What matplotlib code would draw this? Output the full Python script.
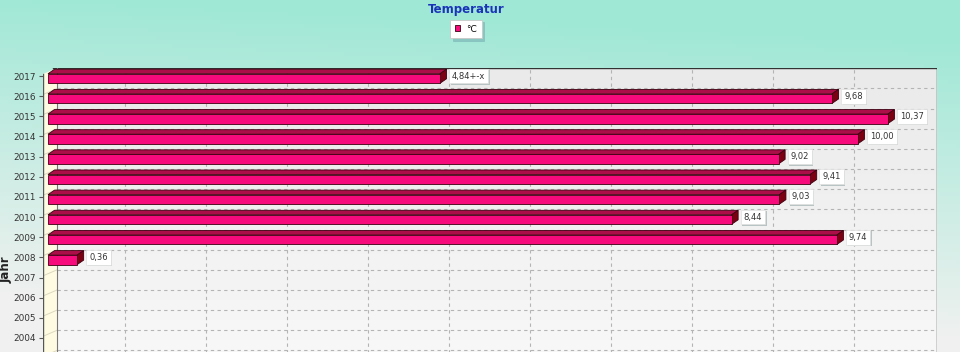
import numpy as np
import matplotlib
matplotlib.use("Agg")
import matplotlib.pyplot as plt
from matplotlib.patches import Polygon
from matplotlib.transforms import offset_copy

# ── data ──────────────────────────────────────────────────────────────────────
years  = [2017, 2016, 2015, 2014, 2013, 2012, 2011, 2010, 2009, 2008, 2007, 2006, 2005, 2004]
values = [4.84, 9.68, 10.37, 10.00, 9.02, 9.41, 9.03, 8.44, 9.74, 0.36, None, None, None, None]
labels = ["4,84+-x", "9,68", "10,37", "10,00", "9,02", "9,41", "9,03", "8,44", "9,74", "0,36",
          "", "", "", ""]
series_name = "°C"
title       = "Temperatur"
ylabel      = "Jahr"

# ── layout (pixels) ───────────────────────────────────────────────────────────
W, H      = 960, 352
PX_UNIT   = 81.0      # px per °C
PX_CAT    = 20.15     # px per year
X0_PX     = 48        # value 0 on the front plane
Y17_PX    = 76        # label row of 2017
AX_L, AX_R, AX_T, AX_B = 43, 937, 68, 400
WALL_PX   = 57

def vx(px):  return (px - X0_PX) / PX_UNIT
def vy(py):  return years[0] - (py - Y17_PX) / PX_CAT

DX = 6.5 / PX_UNIT    # 3D depth
DY = 4.5 / PX_CAT

FRONT   = "#f70a7c"
TOPC    = "#ac0f48"
SIDE    = "#7c0012"
EDGE    = "#3c0010"

fig = plt.figure(figsize=(W / 100, H / 100), dpi=100)

# background gradient (mint on top, pale grey at the bottom)
bg = fig.add_axes([0, 0, 1, 1], zorder=-10)
gx, gy = np.meshgrid(np.linspace(0, 1, 240), np.linspace(0, 1, 88))
t = np.clip((gy - 0.12) / 0.85 + (1 - gx) * 0.15, 0, 1)[..., None]
mint  = np.array([0.63, 0.91, 0.84])
light = np.array([0.94, 0.945, 0.94])
bg.imshow(mint * (1 - t) + light * t, aspect="auto", extent=[0, 1, 0, 1], origin="upper")
bg.axis("off")

ax = fig.add_axes([AX_L / W, 1 - AX_B / H, (AX_R - AX_L) / W, (AX_B - AX_T) / H])
ax.patch.set_visible(False)
for s in ax.spines.values():
    s.set_visible(False)

ybot, ytop = vy(AX_B), vy(AX_T)
xwall = vx(WALL_PX)

# back wall
wall = np.linspace(0.915, 0.975, 50)[:, None]
ax.imshow(np.repeat(wall, 2, axis=1), cmap="gray", vmin=0, vmax=1, aspect="auto",
          extent=[xwall, vx(AX_R), ybot, ytop], origin="upper", zorder=0)

# left wall
ax.add_patch(Polygon([(vx(AX_L), ybot), (vx(AX_L), vy(AX_T + 6)), (xwall, ytop), (xwall, ybot)],
                     closed=True, facecolor="#fffbe2", edgecolor="none", zorder=0.5))

# grid
grid_y = [y + 0.38 for y in years[1:]] + [years[-1] - 0.62]
ax.hlines(grid_y, xwall, vx(AX_R), colors="#b4b4b4", linestyles=(0, (3, 3)), lw=0.8, zorder=1)
for g in grid_y:
    ax.plot([vx(AX_L), xwall], [g - 6 / PX_CAT, g], color="#dcd8c0", lw=0.7, zorder=1)
ax.vlines(np.arange(1, 11) - 0.05, ybot, ytop, colors="#b4b4b4",
          linestyles=(0, (3, 3)), lw=0.8, zorder=1)

# frame
ax.plot([xwall - 0.05, vx(AX_R), vx(AX_R)], [ytop, ytop, ybot], color="#333333", lw=1.0, zorder=2)
ax.plot([xwall, xwall], [ytop, ybot], color="#777777", lw=0.8, zorder=2)
ax.plot([vx(AX_L), vx(AX_L)], [vy(AX_T + 6), ybot], color="#555555", lw=1.0, zorder=2)

# bars
bar_h = 9.5 / PX_CAT
yc    = [y - 2.5 / PX_CAT for y in years]
vals  = [v if v is not None else np.nan for v in values]
bars = ax.barh(yc, vals, height=bar_h, left=0, color=FRONT, edgecolor=EDGE, lw=0.6,
               zorder=5, label=series_name)
for y, v in zip(yc, values):
    if v is None:
        continue
    yt, yb = y + bar_h / 2, y - bar_h / 2
    ax.add_patch(Polygon([(0, yt), (v, yt), (v + DX, yt + DY), (DX, yt + DY)],
                         closed=True, fc=TOPC, ec=EDGE, lw=0.6, zorder=4))
    ax.add_patch(Polygon([(v, yb), (v, yt), (v + DX, yt + DY), (v + DX, yb + DY)],
                         closed=True, fc=SIDE, ec=EDGE, lw=0.6, zorder=4))

# value labels
shadow_tr = offset_copy(ax.transData, fig=fig, x=1.5, y=-1.5, units="dots")
for y, v, lab in zip(years, values, labels):
    if v is None:
        continue
    x = v + 12 / PX_UNIT
    box = dict(boxstyle="square,pad=0.35", lw=0)
    ax.text(x, y, lab, fontsize=6, va="center", ha="left", color=(0, 0, 0, 0),
            transform=shadow_tr, bbox=dict(box, fc="#b8c4c4"), zorder=6)
    ax.text(x, y, lab, fontsize=6, va="center", ha="left", color="#333333",
            bbox=dict(box, fc="white", ec="#e0e0e0", lw=0.5), zorder=7)

# axis ticks
ax.set_xticks([])
ax.set_yticks(years)
ax.set_yticklabels([str(y) for y in years], fontsize=6.4, color="#333333")
ax.tick_params(axis="y", length=3, width=0.8, color="#555555", pad=2.2)
ax.set_xlim(vx(AX_L), vx(AX_R))
ax.set_ylim(ybot, ytop)

fig.text(6 / W, 1 - 270 / H, ylabel, rotation=90, fontsize=8.5, fontweight="bold",
         color="#222222", ha="center", va="center")
fig.text(466 / W, 1 - 10 / H, title, fontsize=8.5, fontweight="bold", color="#1a34b8",
         ha="center", va="center")

leg = fig.legend(handles=[bars[0]], labels=[series_name], loc="center",
                 bbox_to_anchor=(466 / W, 1 - 29 / H), fontsize=6.5, frameon=True,
                 fancybox=False, shadow={"color": "#7fb8b8", "alpha": 0.7},
                 handlelength=0.55, handleheight=0.6,
                 handletextpad=0.6, borderpad=0.55, borderaxespad=0)
leg.get_frame().set_edgecolor("#c8c8c8")
leg.get_frame().set_linewidth(0.6)

fig.savefig("out.png", dpi=100)
